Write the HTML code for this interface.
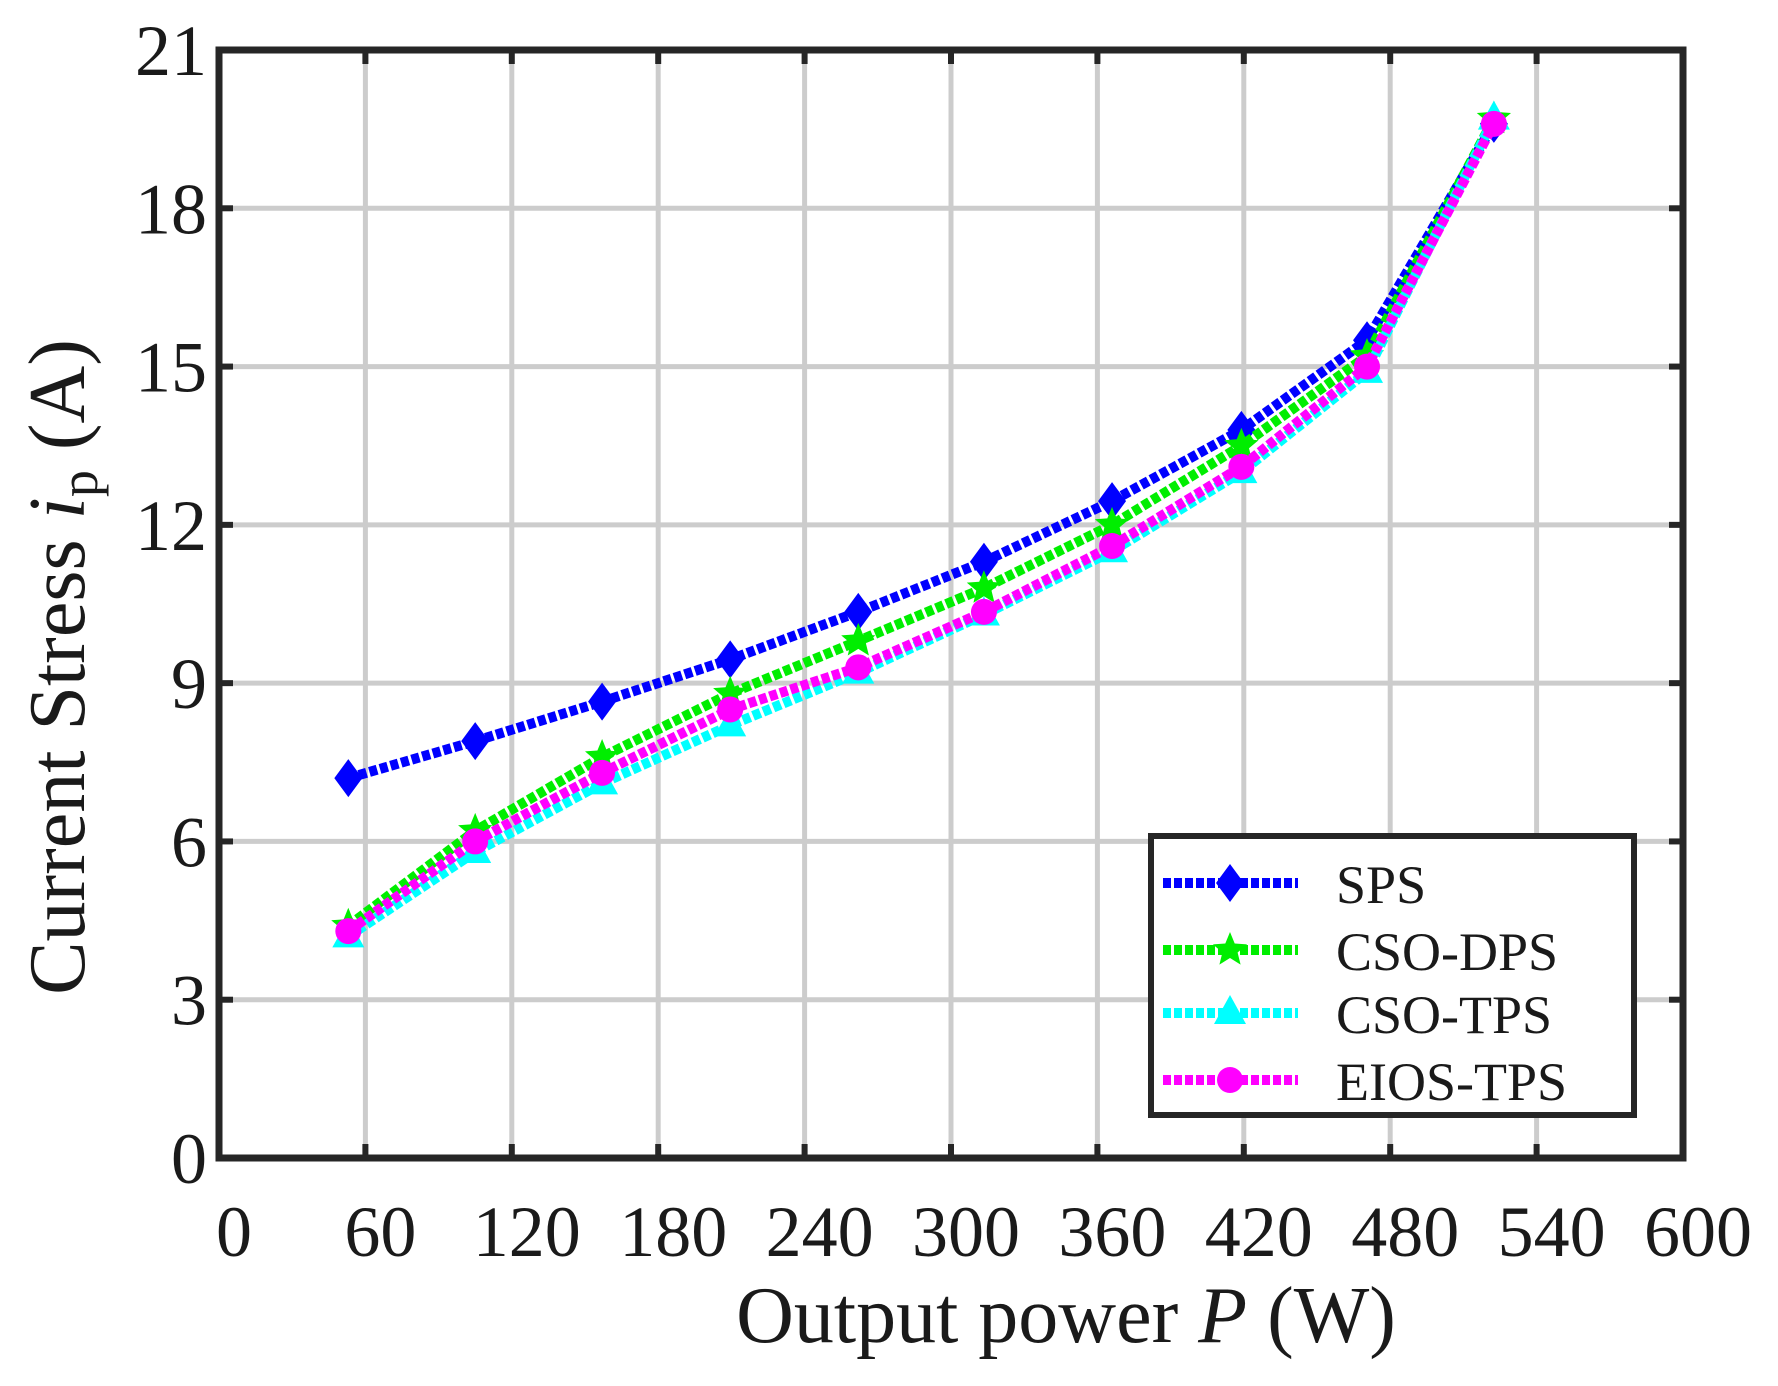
<!DOCTYPE html>
<html><head><meta charset="utf-8"><style>
html,body{margin:0;padding:0;background:#fff;}
svg{display:block;}
text{font-family:"Liberation Serif",serif;fill:#1a1a1a;}
</style></head><body>
<svg id="s" width="1778" height="1386" xmlns="http://www.w3.org/2000/svg"></svg>
<script>
const s=document.getElementById('s');
const L=219,R=1683,T=50,B=1158;
const X=w=>L+w*(R-L)/600, Y=a=>B-a*(B-T)/21;
let h='';
for(let i=1;i<10;i++){h+=`<line x1="${X(i*60)}" y1="${T}" x2="${X(i*60)}" y2="${B}" stroke="#cccccc" stroke-width="5"/>`;}
for(let i=1;i<7;i++){h+=`<line x1="${L}" y1="${Y(i*3)}" x2="${R}" y2="${Y(i*3)}" stroke="#cccccc" stroke-width="5"/>`;}
for(let i=1;i<10;i++){h+=`<line x1="${X(i*60)}" y1="${B}" x2="${X(i*60)}" y2="${B-14}" stroke="#262626" stroke-width="6"/><line x1="${X(i*60)}" y1="${T}" x2="${X(i*60)}" y2="${T+14}" stroke="#262626" stroke-width="6"/>`;}
for(let i=1;i<7;i++){h+=`<line x1="${L}" y1="${Y(i*3)}" x2="${L+14}" y2="${Y(i*3)}" stroke="#262626" stroke-width="6"/><line x1="${R}" y1="${Y(i*3)}" x2="${R-14}" y2="${Y(i*3)}" stroke="#262626" stroke-width="6"/>`;}
for(let i=0;i<=10;i++){h+=`<text x="${X(i*60)+15}" y="1256" font-size="72" text-anchor="middle">${i*60}</text>`;}
for(let i=0;i<=7;i++){h+=`<text x="207" y="${Y(i*3)+25}" font-size="72" text-anchor="end">${i*3}</text>`;}
const xs=[53,105,157,209.5,262,313.5,366,419,470.5,522.5];
const data=[
 ['#0000ff','d',[7.2,7.9,8.65,9.45,10.35,11.3,12.45,13.8,15.5,19.6]],
 ['#00ee00','s',[4.4,6.2,7.6,8.8,9.8,10.8,12.0,13.5,15.2,19.7]],
 ['#00ffff','t',[4.2,5.8,7.1,8.2,9.2,10.3,11.5,13.0,14.9,19.7]],
 ['#ff00ff','c',[4.3,6.0,7.3,8.5,9.3,10.35,11.6,13.1,15.0,19.6]]];
function mk(t,x,y,c){
 if(t=='d')return `<polygon points="${x},${y-19} ${x+14},${y} ${x},${y+19} ${x-14},${y}" fill="${c}"/>`;
 if(t=='t')return `<polygon points="${x},${y-18} ${x+16},${y+11} ${x-16},${y+11}" fill="${c}"/>`;
 if(t=='c')return `<circle cx="${x}" cy="${y}" r="13" fill="${c}"/>`;
 let p=[];for(let k=0;k<10;k++){let r=k%2?8:18,a=-Math.PI/2+k*Math.PI/5;p.push((x+r*Math.cos(a)).toFixed(1)+','+(y+r*Math.sin(a)).toFixed(1));}
 return `<polygon points="${p.join(' ')}" fill="${c}"/>`;}
for(const [c,t,v] of data){
 h+=`<polyline points="${xs.map((w,i)=>X(w)+','+Y(v[i])).join(' ')}" fill="none" stroke="${c}" stroke-width="10" stroke-dasharray="8 3"/>`;
 xs.forEach((w,i)=>h+=mk(t,X(w),Y(v[i]),c));
}
h+=`<rect x="${L}" y="${T}" width="${R-L}" height="${B-T}" fill="none" stroke="#262626" stroke-width="7"/>`;
h+=`<rect x="1151" y="836" width="483" height="279" fill="#fff" stroke="#262626" stroke-width="6"/>`;
const ly=[883,950,1013,1080],names=['SPS','CSO-DPS','CSO-TPS','EIOS-TPS'];
data.forEach(([c,t],i)=>{h+=`<line x1="1163" y1="${ly[i]}" x2="1298" y2="${ly[i]}" stroke="${c}" stroke-width="10" stroke-dasharray="8 3"/>`+mk(t,1230,ly[i],c)+`<text x="1336" y="${ly[i]+20}" font-size="54">${names[i]}</text>`;});
h+=`<text x="1066" y="1342" font-size="80" text-anchor="middle">Output power  <tspan font-style="italic">P</tspan> (W)</text>`;
h+=`<text transform="translate(84,667) rotate(-90)" font-size="80" text-anchor="middle">Current Stress  <tspan font-style="italic">i</tspan><tspan font-size="54" dy="13">p</tspan><tspan dy="-13"> (A)</tspan></text>`;
s.innerHTML=h;
</script>
</body></html>
